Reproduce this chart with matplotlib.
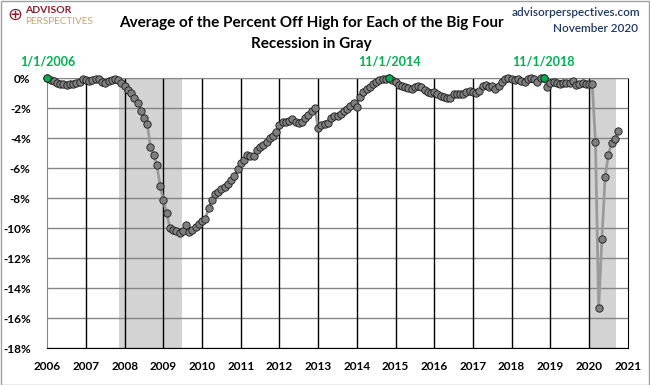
import numpy as np
import matplotlib
matplotlib.use("Agg")
import matplotlib.pyplot as plt

plt.rcParams['font.family'] = ['Lato', 'DejaVu Sans']

# average percent off high, monthly, Jan 2006 - Oct 2020
pct_2006 = [0.0, -0.13, -0.2, -0.29, -0.36, -0.4, -0.42, -0.4, -0.36, -0.31, -0.24, -0.02]
pct_2007 = [-0.12, -0.15, -0.08, -0.03, -0.02, -0.27, -0.29, -0.16, -0.1, -0.05, -0.1, -0.33]
pct_2008 = [-0.51, -0.78, -1.0, -1.33, -1.62, -2.16, -2.67, -3.04, -4.6, -5.1, -5.8, -7.2]
pct_2009 = [-8.13, -8.96, -9.96, -10.13, -10.2, -10.3, -10.2, -9.75, -10.24, -10.13, -9.9, -9.7]
pct_2010 = [-9.5, -9.4, -8.67, -8.11, -7.71, -7.6, -7.4, -7.22, -7.07, -6.78, -6.51, -6.05]
pct_2011 = [-5.62, -5.45, -5.11, -5.18, -5.18, -4.78, -4.6, -4.44, -4.27, -4.0, -3.85, -3.56]
pct_2012 = [-3.11, -2.89, -2.89, -2.85, -2.73, -2.93, -3.0, -2.93, -2.67, -2.45, -2.16, -2.0]
pct_2013 = [-3.33, -3.11, -3.04, -3.0, -2.67, -2.51, -2.5, -2.35, -2.2, -2.05, -1.86, -1.62]
pct_2014 = [-1.89, -1.22, -0.89, -0.73, -0.56, -0.38, -0.22, -0.11, -0.05, -0.02, 0.0, -0.12]
pct_2015 = [-0.22, -0.44, -0.51, -0.56, -0.67, -0.73, -0.6, -0.51, -0.6, -0.78, -0.93, -1.0]
pct_2016 = [-0.93, -1.04, -1.2, -1.27, -1.33, -1.29, -1.07, -1.07, -1.04, -1.07, -0.93, -0.82]
pct_2017 = [-0.89, -1.0, -0.84, -0.51, -0.44, -0.56, -0.49, -0.73, -0.49, -0.22, -0.07, 0.0]
pct_2018 = [-0.07, -0.11, -0.07, -0.16, -0.22, -0.07, 0.0, -0.02, -0.22, 0.0, 0.0, -0.56]
pct_2019 = [-0.29, -0.22, -0.33, -0.38, -0.33, -0.29, -0.33, -0.16, -0.44, -0.38, -0.29, -0.38]
pct_2020 = [-0.38, -0.4, -4.22, -15.33, -10.73, -6.6, -5.09, -4.33, -4.04, -3.51]

highs = {0: '1/1/2006', 106: '11/1/2014', 154: '11/1/2018'}  # month index -> label
recessions = [(2007.85, 2009.48), (2020.0, 2020.70)]
years = list(range(2006, 2022))
yticks = list(range(-18, 1, 2))

values = np.array(pct_2006 + pct_2007 + pct_2008 + pct_2009 + pct_2010 + pct_2011 + pct_2012
                  + pct_2013 + pct_2014 + pct_2015 + pct_2016 + pct_2017 + pct_2018 + pct_2019
                  + pct_2020)
dates = 2006 + np.arange(len(values)) / 12.0

W, H = 650, 385
fig = plt.figure(figsize=(W / 100, H / 100), dpi=100)
ax = fig.add_axes([47.3 / W, 1 - 348.3 / H, (627.7 - 47.3) / W, (348.3 - 78.3) / H])

for start, end in recessions:
    ax.axvspan(start, end, color='#D3D3D3', lw=0, zorder=0)
for yv in yticks:
    ax.axhline(yv, color='#868686', lw=1, zorder=1)
for yr in years[1:-1]:
    ax.axvline(yr, color='black', lw=1, zorder=1)

ax.plot(dates, values, color='#9A9A9A', lw=2, zorder=3)
ax.plot(dates, values, 'o', ms=5.3, mfc='#7F7F7F', mec='#1a1a1a', mew=0.6, zorder=4, clip_on=False)
for idx, label in highs.items():
    ax.plot(dates[idx], values[idx], 'o', ms=5.3, mfc='#00B050', mec='#1a1a1a', mew=0.6,
            zorder=5, clip_on=False)
    ax.text(dates[idx], 1.1, label, color='#00B050', ha='center', va='center',
            fontsize=9, fontweight='bold')

ax.set_xlim(2006, 2021)
ax.set_ylim(-18, 0)
ax.set_xticks(years)
ax.set_xticklabels([str(y) for y in years], fontsize=8.5, fontweight='bold')
ax.set_yticks(yticks)
ax.set_yticklabels([f'{v}%' for v in yticks], fontsize=8.5, fontweight='bold')
ax.tick_params(axis='x', length=0, pad=9)
ax.tick_params(axis='y', length=0, pad=12)
ax.spines['left'].set_color('#868686')
ax.spines['top'].set_color('#868686')
ax.spines['right'].set_color('black')
ax.spines['bottom'].set_color('black')

fig.text(311 / W, 1 - 23 / H, 'Average of the Percent Off High for Each of the Big Four',
         ha='center', va='center', fontsize=11, fontweight='bold')
fig.text(311 / W, 1 - 44 / H, 'Recession in Gray', ha='center', va='center',
         fontsize=11, fontweight='bold')
fig.text(640 / W, 1 - 13 / H, 'advisorperspectives.com', ha='right', va='center',
         fontsize=8.5, fontweight='semibold', color='#1F3864')
fig.text(638 / W, 1 - 28 / H, 'November 2020', ha='right', va='center',
         fontsize=8.5, fontweight='semibold', color='#1F3864')

# logo
fig.text(15 / W, 1 - 15 / H, '\u2295', ha='center', va='center', fontsize=13,
         color='#8B1C2B', family='DejaVu Sans')
fig.text(25 / W, 1 - 10.5 / H, 'ADVISOR', ha='left', va='center', fontsize=7.5,
         fontweight='bold', color='#8B1C2B')
fig.text(25 / W, 1 - 21 / H, 'PERSPECTIVES', ha='left', va='center', fontsize=7.2,
         color='#C8A46E')

fig.patches.append(plt.Rectangle((0.5 / W, 0.5 / H), 1 - 1.5 / W, 1 - 1.5 / H, fill=False,
                                 ec='#A0A0A0', lw=1, transform=fig.transFigure))

fig.savefig('out.png', dpi=100)
